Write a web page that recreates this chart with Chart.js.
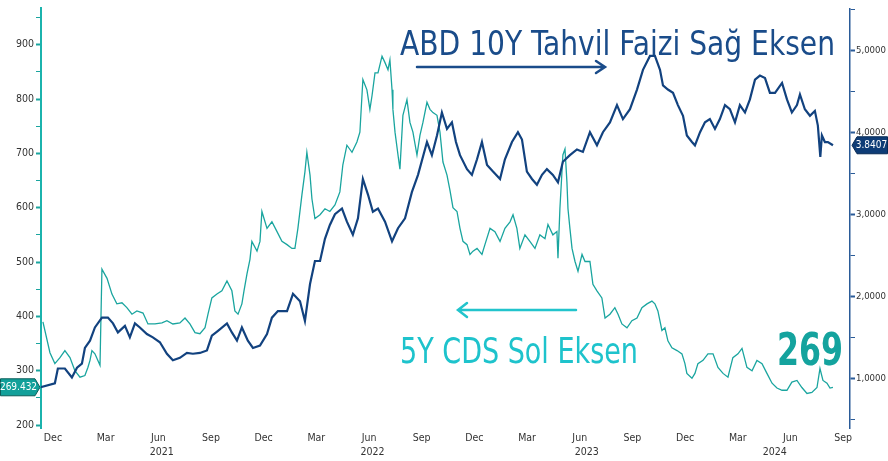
<!DOCTYPE html>
<html>
<head>
<meta charset="utf-8">
<script src="https://cdn.jsdelivr.net/npm/chart.js@4.4.1/dist/chart.umd.min.js"></script>
<style>
    html, body { margin: 0; padding: 0; background: #ffffff; }
    #kutu { width: 888px; height: 461px; }
</style>
</head>
<body>
<div id="kutu"><canvas id="grafik" width="888" height="461"></canvas></div>
<script>
// ================= VERİ =================
// x = ay sayısı, 0 = Aralık 2020 (Dec), 3 = Mart 2021 ...
const tahvilAy = [
    -0.74, 0.11, 0.28, 0.68, 1.08, 1.37, 1.65, 1.82, 2.11, 2.39, 2.79, 3.13, 3.42, 3.70, 4.10, 4.38,
    4.67, 4.95, 5.35, 5.69, 6.09, 6.49, 6.83, 7.23, 7.63, 7.97, 8.37, 8.77, 9.05, 9.40, 9.91, 10.19,
    10.48, 10.76, 11.10, 11.39, 11.79, 12.19, 12.47, 12.81, 13.33, 13.67, 14.07, 14.35, 14.64, 14.92, 15.21, 15.49,
    15.77, 16.06, 16.46, 16.74, 17.08, 17.37, 17.65, 17.94, 18.22, 18.51, 18.91, 19.31, 19.65, 20.05, 20.44, 20.79,
    21.30, 21.58, 21.87, 22.15, 22.44, 22.72, 22.95, 23.18, 23.58, 23.86, 24.15, 24.43, 24.72, 25.06, 25.46, 25.74,
    26.14, 26.48, 26.71, 26.99, 27.28, 27.56, 27.85, 28.13, 28.47, 28.76, 29.04, 29.44, 29.84, 30.18, 30.58, 30.98,
    31.32, 31.72, 32.12, 32.46, 32.86, 33.26, 33.60, 34.00, 34.28, 34.57, 34.74, 35.02, 35.31, 35.59, 35.88, 36.10,
    36.39, 36.56, 36.85, 37.13, 37.41, 37.70, 37.98, 38.27, 38.55, 38.84, 39.12, 39.41, 39.69, 39.98, 40.26, 40.55,
    40.83, 41.12, 41.52, 41.80, 42.08, 42.37, 42.54, 42.82, 43.11, 43.39, 43.56, 43.70, 43.79, 43.96, 44.13, 44.42
];
const tahvilFaiz = [
    0.89, 0.94, 1.12, 1.12, 1.01, 1.13, 1.18, 1.37, 1.46, 1.62, 1.74, 1.74, 1.67, 1.56, 1.64, 1.50,
    1.67, 1.62, 1.54, 1.50, 1.44, 1.30, 1.22, 1.25, 1.31, 1.30, 1.31, 1.34, 1.52, 1.58, 1.67, 1.56,
    1.46, 1.62, 1.46, 1.37, 1.40, 1.54, 1.74, 1.82, 1.82, 2.03, 1.94, 1.70, 2.15, 2.43, 2.43, 2.70,
    2.87, 3.00, 3.07, 2.91, 2.75, 2.95, 3.43, 3.24, 3.03, 3.07, 2.91, 2.67, 2.83, 2.95, 3.27, 3.48,
    3.88, 3.72, 3.96, 4.24, 4.04, 4.12, 3.88, 3.72, 3.55, 3.48, 3.67, 3.88, 3.60, 3.52, 3.43, 3.67,
    3.88, 4.00, 3.91, 3.52, 3.43, 3.36, 3.48, 3.55, 3.48, 3.39, 3.64, 3.72, 3.79, 3.76, 4.00, 3.84,
    4.00, 4.12, 4.33, 4.16, 4.28, 4.52, 4.76, 4.93, 4.93, 4.76, 4.57, 4.52, 4.48, 4.33, 4.20, 3.96,
    3.88, 3.84, 4.00, 4.12, 4.16, 4.04, 4.16, 4.33, 4.28, 4.12, 4.33, 4.24, 4.40, 4.64, 4.69, 4.66,
    4.48, 4.48, 4.60, 4.40, 4.24, 4.33, 4.46, 4.28, 4.20, 4.26, 4.08, 3.70, 3.96, 3.88, 3.88, 3.8407
];

const cdsAy = [
    -0.57, -0.17, 0.11, 0.40, 0.68, 0.97, 1.25, 1.54, 1.82, 1.99, 2.11, 2.22, 2.39, 2.68, 2.79, 3.08,
    3.36, 3.64, 3.93, 4.21, 4.50, 4.78, 5.13, 5.41, 5.81, 6.21, 6.49, 6.83, 7.23, 7.52, 7.80, 8.09,
    8.37, 8.66, 8.83, 9.05, 9.34, 9.62, 9.91, 10.19, 10.36, 10.54, 10.76, 10.88, 11.05, 11.22, 11.33, 11.62,
    11.79, 11.90, 12.19, 12.47, 12.76, 13.04, 13.33, 13.61, 13.78, 13.95, 14.18, 14.35, 14.46, 14.64, 14.75, 14.92,
    15.21, 15.49, 15.77, 16.06, 16.34, 16.51, 16.74, 17.03, 17.31, 17.48, 17.65, 17.88, 18.05, 18.17, 18.34, 18.51,
    18.74, 18.91, 19.08, 19.19, 19.31, 19.36, 19.48, 19.65, 19.76, 19.93, 20.16, 20.33, 20.50, 20.73, 20.90, 21.07,
    21.30, 21.47, 21.64, 21.87, 22.04, 22.21, 22.44, 22.61, 22.78, 23.01, 23.18, 23.35, 23.58, 23.75, 23.92, 24.15,
    24.43, 24.60, 24.89, 25.17, 25.46, 25.74, 26.03, 26.20, 26.42, 26.59, 26.88, 27.16, 27.45, 27.73, 28.02, 28.19,
    28.47, 28.70, 28.76, 28.87, 29.04, 29.16, 29.27, 29.33, 29.44, 29.56, 29.73, 29.90, 30.13, 30.30, 30.58, 30.75,
    30.98, 31.26, 31.44, 31.72, 32.00, 32.18, 32.40, 32.69, 32.97, 33.26, 33.54, 33.83, 34.11, 34.28, 34.45, 34.68,
    34.85, 35.02, 35.25, 35.54, 35.82, 35.99, 36.10, 36.39, 36.56, 36.73, 37.02, 37.30, 37.59, 37.87, 38.16, 38.44,
    38.72, 39.01, 39.24, 39.52, 39.81, 40.09, 40.38, 40.66, 40.95, 41.23, 41.52, 41.80, 42.08, 42.37, 42.65, 42.94,
    43.22, 43.51, 43.68, 43.85, 44.08, 44.25, 44.42
];
const cdsDeger = [
    390, 333, 313, 324, 337, 324, 300, 288, 291, 306, 319, 337, 331, 310, 487, 470,
    441, 423, 425, 416, 404, 410, 406, 386, 386, 388, 392, 386, 388, 397, 386, 370,
    368, 379, 404, 434, 441, 447, 465, 447, 410, 404, 423, 447, 478, 505, 538, 520,
    538, 593, 562, 574, 556, 538, 532, 525, 525, 562, 624, 666, 702, 660, 616, 580,
    587, 598, 593, 605, 629, 679, 715, 702, 721, 739, 836, 817, 781, 806, 848, 848,
    879, 867, 854, 872, 817, 781, 739, 697, 671, 770, 799, 757, 739, 697, 733, 757,
    794, 781, 775, 770, 739, 684, 660, 632, 600, 593, 562, 538, 532, 514, 520, 525,
    514, 532, 562, 556, 538, 562, 574, 587, 562, 525, 550, 538, 525, 550, 543, 569,
    550, 556, 507, 598, 697, 708, 647, 598, 562, 525, 501, 483, 514, 501, 501, 459,
    447, 434, 397, 404, 416, 404, 386, 379, 392, 397, 416, 423, 428, 423, 410, 374,
    379, 355, 342, 337, 331, 313, 295, 286, 295, 313, 319, 331, 331, 306, 295, 288,
    324, 331, 341, 306, 300, 319, 313, 295, 277, 268, 264, 264, 279, 282, 269, 258,
    260, 269, 304, 282, 277, 268, 269.432
];

// eksen etiketleri
const ayTikleri    = [0, 3, 6, 9, 12, 15, 18, 21, 24, 27, 30, 33, 36, 39, 42, 45];
const ayEtiketleri = ['Dec', 'Mar', 'Jun', 'Sep', 'Dec', 'Mar', 'Jun', 'Sep',
                      'Dec', 'Mar', 'Jun', 'Sep', 'Dec', 'Mar', 'Jun', 'Sep'];
const yilKonumu    = [6.2, 18.2, 30.4, 41.1];
const yilEtiketleri = ['2021', '2022', '2023', '2024'];
const solTikler = [200, 250, 300, 350, 400, 450, 500, 550, 600, 650, 700, 750, 800, 850, 900, 950];
const sagTikler = [0.5, 1, 1.5, 2, 2.5, 3, 3.5, 4, 4.5, 5, 5.5];

// ================= RENKLER =================
const LACIVERT = '#12427f';
const TURKUAZ  = '#1aa59f';
const YAZI_FONT = "'DejaVu Sans Condensed', 'DejaVu Sans', sans-serif";

// metni verilen genişliğe sığdır
function yaziSigdir(ctx, metin, x, y, genislik, font, renk) {
    ctx.save();
    ctx.font = font;
    const w = ctx.measureText(metin).width;
    ctx.translate(x, y);
    ctx.scale(genislik / w, 1);
    ctx.fillStyle = renk;
    ctx.textBaseline = 'alphabetic';
    ctx.textAlign = 'left';
    ctx.fillText(metin, 0, 0);
    ctx.restore();
}

// ================= NOTLAR =================
const notlar = {
    id: 'notlar',
    afterDraw(chart) {
        const ctx = chart.ctx;
        const sol = chart.scales.ySol;
        const sag = chart.scales.ySag;

        // başlık yazıları
        yaziSigdir(ctx, 'ABD 10Y Tahvil Faizi Sağ Eksen', 400, 55, 435, '34px ' + YAZI_FONT, '#1a4c8a');
        yaziSigdir(ctx, '5Y CDS Sol Eksen', 400, 363, 238, '35px ' + YAZI_FONT, '#1ec3cc');
        yaziSigdir(ctx, '269', 777, 365, 66, 'bold 45px ' + YAZI_FONT, '#14a39e');

        // oklar
        ctx.save();
        ctx.lineWidth = 2.5;
        ctx.lineCap = 'round';
        ctx.strokeStyle = '#1a4c8a';
        ctx.beginPath();
        ctx.moveTo(417, 67); ctx.lineTo(604, 67);
        ctx.moveTo(596, 61); ctx.lineTo(605, 67); ctx.lineTo(596, 73);
        ctx.stroke();
        ctx.strokeStyle = '#22c4cc';
        ctx.beginPath();
        ctx.moveTo(576, 310); ctx.lineTo(459, 310);
        ctx.moveTo(467, 303); ctx.lineTo(458, 310); ctx.lineTo(467, 317);
        ctx.stroke();
        ctx.restore();

        // son değer kutuları
        const ySonCds = sol.getPixelForValue(cdsDeger[cdsDeger.length - 1]);
        const ySonFaiz = sag.getPixelForValue(tahvilFaiz[tahvilFaiz.length - 1]);

        ctx.save();
        ctx.fillStyle = '#12a09a';
        ctx.strokeStyle = '#0b5e5a';
        ctx.lineWidth = 1;
        ctx.beginPath();
        ctx.moveTo(0.5, ySonCds - 8.5);
        ctx.lineTo(35, ySonCds - 8.5);
        ctx.lineTo(40, ySonCds);
        ctx.lineTo(35, ySonCds + 8.5);
        ctx.lineTo(0.5, ySonCds + 8.5);
        ctx.closePath();
        ctx.fill();
        ctx.stroke();
        ctx.fillStyle = '#ffffff';
        ctx.font = '10px ' + YAZI_FONT;
        ctx.textAlign = 'center';
        ctx.textBaseline = 'middle';
        ctx.fillText('269.432', 18.5, ySonCds + 0.5);

        ctx.fillStyle = '#0e3c76';
        ctx.strokeStyle = '#082a55';
        ctx.beginPath();
        ctx.moveTo(852, ySonFaiz);
        ctx.lineTo(857, ySonFaiz - 8.5);
        ctx.lineTo(887.5, ySonFaiz - 8.5);
        ctx.lineTo(887.5, ySonFaiz + 8.5);
        ctx.lineTo(857, ySonFaiz + 8.5);
        ctx.closePath();
        ctx.fill();
        ctx.stroke();
        ctx.fillStyle = '#ffffff';
        ctx.fillText('3.8407', 871.5, ySonFaiz + 0.5);
        ctx.restore();
    }
};

// ================= GRAFİK =================
const eksenYazisi = { family: YAZI_FONT, size: 10.5 };
const sagYazisi   = { family: YAZI_FONT, size: 9.5 };

new Chart(document.getElementById('grafik'), {
    type: 'line',
    data: {
        datasets: [
            {
                label: 'ABD 10Y',
                data: tahvilAy.map((x, i) => ({ x, y: tahvilFaiz[i] })),
                yAxisID: 'ySag',
                borderColor: LACIVERT,
                borderWidth: 2.2,
                pointRadius: 0,
                tension: 0,
                order: 0
            },
            {
                label: '5Y CDS',
                data: cdsAy.map((x, i) => ({ x, y: cdsDeger[i] })),
                yAxisID: 'ySol',
                borderColor: TURKUAZ,
                borderWidth: 1.3,
                pointRadius: 0,
                tension: 0,
                order: 1
            }
        ]
    },
    options: {
        responsive: false,
        animation: false,
        devicePixelRatio: 1,
        layout: { padding: { top: 5, left: 0, right: 0, bottom: 0 } },
        plugins: { legend: { display: false }, tooltip: { enabled: false } },
        scales: {
            x: {
                type: 'linear',
                position: 'bottom',
                weight: 0,
                min: -0.68,
                max: 45.39,
                afterBuildTicks: s => { s.ticks = ayTikleri.map(v => ({ value: v })); },
                ticks: {
                    callback: (v, i) => ayEtiketleri[i],
                    autoSkip: false, maxRotation: 0,
                    font: eksenYazisi, color: '#333333', padding: 4
                },
                grid: { display: false, drawTicks: false },
                border: { display: false },
                afterFit: s => { s.height = 17; }
            },
            xYil: {
                type: 'linear',
                position: 'bottom',
                weight: 1,
                min: -0.68,
                max: 45.39,
                afterBuildTicks: s => { s.ticks = yilKonumu.map(v => ({ value: v })); },
                ticks: {
                    callback: (v, i) => yilEtiketleri[i],
                    autoSkip: false, maxRotation: 0,
                    font: eksenYazisi, color: '#333333', padding: 1
                },
                grid: { display: false, drawTicks: false },
                border: { display: false },
                afterFit: s => { s.height = 16; }
            },
            ySol: {
                type: 'linear',
                position: 'left',
                min: 194.5,
                max: 967,
                afterBuildTicks: s => { s.ticks = solTikler.map(v => ({ value: v })); },
                ticks: {
                    callback: v => (v % 100 === 0 ? String(v) : ''),
                    font: eksenYazisi, color: '#333333', padding: 2
                },
                grid: {
                    drawOnChartArea: false,
                    drawTicks: true,
                    tickLength: 5,
                    tickColor: TURKUAZ,
                    tickWidth: c => (c.tick && c.tick.value % 100 === 0 ? 2 : 1)
                },
                border: { color: '#1bb3ad', width: 2 },
                afterFit: s => { s.width = 41; }
            },
            ySag: {
                type: 'linear',
                position: 'right',
                min: 0.395,
                max: 5.51,
                afterBuildTicks: s => { s.ticks = sagTikler.map(v => ({ value: v })); },
                ticks: {
                    callback: v => (Number.isInteger(v) ? v.toFixed(4).replace('.', ',') : ''),
                    font: sagYazisi, color: '#333333', padding: 1
                },
                grid: {
                    drawOnChartArea: false,
                    drawTicks: true,
                    tickLength: 5,
                    tickColor: '#2a5b98',
                    tickWidth: c => (c.tick && Number.isInteger(c.tick.value) ? 2 : 1)
                },
                border: { color: '#2a5b98', width: 1.5 },
                afterFit: s => { s.width = 38; }
            }
        }
    },
    plugins: [notlar]
});
</script>
</body>
</html>
